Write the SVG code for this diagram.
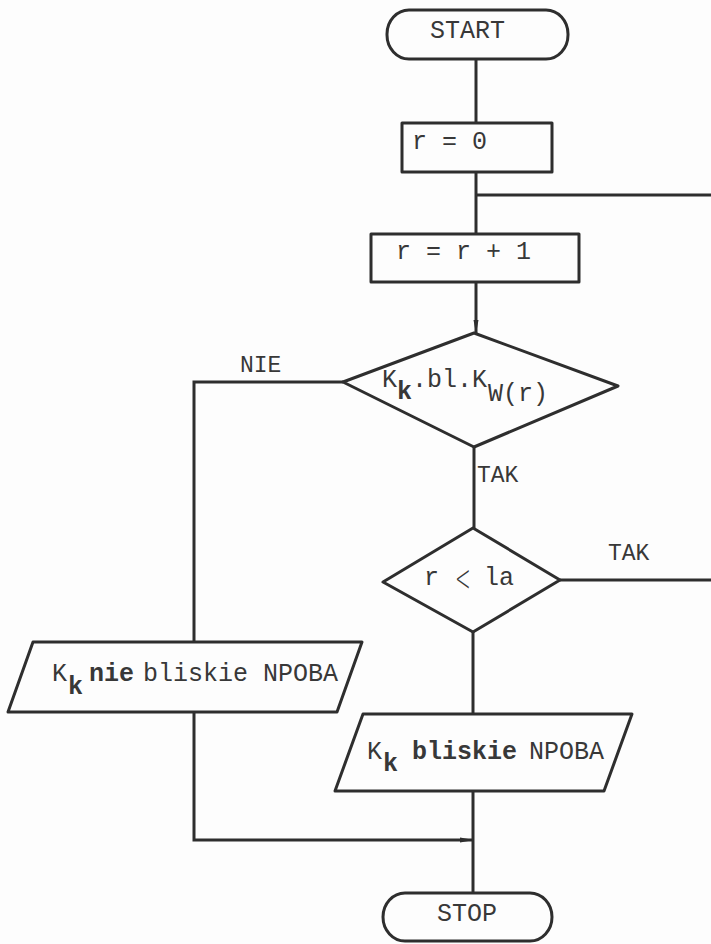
<svg xmlns="http://www.w3.org/2000/svg" width="711" height="944" viewBox="0 0 711 944">
  <style>
    .shape { fill: none; stroke: #2e2e2e; stroke-width: 3; stroke-linejoin: round; }
    .wire { fill: none; stroke: #2e2e2e; stroke-width: 3; }
    .t { font-family: "Liberation Mono", "DejaVu Sans Mono", monospace; font-size: 25px; fill: #383838; }
    .lbl { font-family: "Liberation Mono", "DejaVu Sans Mono", monospace; font-size: 23px; fill: #383838; }
    .b { font-weight: bold; }
  </style>
  <defs>
    <marker id="tip" viewBox="0 0 14 6" refX="13" refY="3" markerWidth="14" markerHeight="6" markerUnits="userSpaceOnUse" orient="auto">
      <path d="M0,0.5 L14,3 L0,5.5 z" fill="#2e2e2e"/>
    </marker>
  </defs>
  <rect width="711" height="944" fill="#fdfdfd"/>

  <!-- connectors -->
  <g id="connectors">
    <path class="wire" d="M476,59 V123"/>
    <path class="wire" d="M476,172 V235"/>
    <path class="wire" d="M711,195 H476"/>
    <path class="wire" d="M476,282 V333" marker-end="url(#tip)"/>
    <path class="wire" d="M343,382 H194 V642"/>
    <path class="wire" d="M474,447 V528"/>
    <path class="wire" d="M560,580 H711"/>
    <path class="wire" d="M473,632 V714"/>
    <path class="wire" d="M194,712 V840 H473" marker-end="url(#tip)"/>
    <path class="wire" d="M473,791 V893"/>
    <text class="lbl" x="240" y="372">NIE</text>
    <text class="lbl" x="477" y="482">TAK</text>
    <text class="lbl" x="608" y="560">TAK</text>
  </g>

  <!-- start terminator -->
  <g id="start">
    <rect class="shape" x="387" y="10" width="181" height="49" rx="22" ry="24"/>
    <text class="t" x="430" y="38" font-size="24">START</text>
  </g>

  <!-- r = 0 -->
  <g id="init">
    <rect class="shape" x="402" y="123" width="150" height="49"/>
    <text class="t" x="412" y="149">r = 0</text>
  </g>

  <!-- r = r + 1 -->
  <g id="increment">
    <rect class="shape" x="371" y="234" width="208" height="48"/>
    <text class="t" x="396" y="259">r = r + 1</text>
  </g>

  <!-- closeness test -->
  <g id="test-close">
    <polygon class="shape" points="474,333 618,386 474,447 343,382"/>
    <text class="t">
      <tspan x="382" y="387">K</tspan><tspan class="b" x="397" y="399">k</tspan><tspan x="412" y="387">.bl.K</tspan><tspan x="488" y="401">W(r)</tspan>
    </text>
  </g>

  <!-- loop bound test -->
  <g id="test-bound">
    <polygon class="shape" points="473,528 560,580 473,632 383,582"/>
    <text class="t" x="424" y="585">r</text>
    <text class="t" transform="translate(455,591) scale(0.75,1.5)" font-size="23" style="font-family:'DejaVu Sans','Liberation Sans',sans-serif;font-weight:300">&lt;</text>
    <text class="t" x="484" y="585">la</text>
  </g>

  <!-- not close output -->
  <g id="out-not-close">
    <polygon class="shape" points="33,642 362,642 337,712 8,712"/>
    <text class="t">
      <tspan x="52" y="681">K</tspan><tspan class="b" x="68" y="694">k</tspan><tspan class="b" x="89" y="681">nie</tspan><tspan x="143" y="681">bliskie NPOBA</tspan>
    </text>
  </g>

  <!-- close output -->
  <g id="out-close">
    <polygon class="shape" points="363,714 632,714 604,791 335,791"/>
    <text class="t">
      <tspan x="367" y="759">K</tspan><tspan class="b" x="383" y="771">k</tspan><tspan class="b" x="412" y="759">bliskie</tspan><tspan x="529" y="759">NPOBA</tspan>
    </text>
  </g>

  <!-- stop terminator -->
  <g id="stop">
    <rect class="shape" x="383" y="893" width="169" height="48" rx="22" ry="24"/>
    <text class="t" x="437" y="921" font-size="24">STOP</text>
  </g>
</svg>
